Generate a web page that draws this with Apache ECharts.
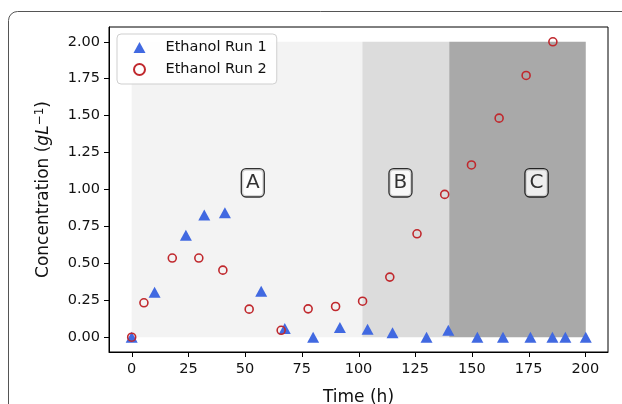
<!DOCTYPE html>
<html>
<head>
<meta charset="utf-8">
<script src="https://cdn.jsdelivr.net/npm/echarts@6/dist/echarts.min.js"></script>
<style>
  html, body { margin: 0; padding: 0; background: #fff; }
  #chart { width: 622px; height: 404px; }
</style>
</head>
<body>
<div id="chart"></div>
<script>
// run 1 (triangles)
const run1Time = [0, 10.1, 23.9, 32, 41.1, 57.1, 67.5, 80, 91.8, 104, 115, 130, 139.6, 152.4, 163.7, 175.8, 185.5, 191.2, 200.2];
const run1Conc = [0, 0.305, 0.69, 0.827, 0.843, 0.312, 0.059, 0, 0.066, 0.054, 0.03, 0, 0.047, 0, 0, 0, 0, 0, 0];

// run 2 (circles)
const run2Time = [0, 5.4, 17.9, 29.6, 40.2, 51.8, 65.9, 77.8, 89.9, 101.8, 113.8, 125.8, 138, 149.8, 162, 173.9, 185.7];
const run2Conc = [0, 0.233, 0.536, 0.536, 0.454, 0.19, 0.047, 0.192, 0.208, 0.244, 0.407, 0.70, 0.967, 1.166, 1.483, 1.772, 2.0];

// phases
const phaseNames = ["A", "B", "C"];
const phaseStart = [0, 101.7, 140];
const phaseEnd = [101.7, 140, 200.2];
const phaseTop = 2.0;
const phaseLabelX = [53.4, 118.5, 178.5];
const phaseLabelY = 1.045;

const xTicks = [0, 25, 50, 75, 100, 125, 150, 175, 200];
const yTicks = [0, 0.25, 0.5, 0.75, 1.0, 1.25, 1.5, 1.75, 2.0];
const X_MIN = -10, X_MAX = 210, Y_MIN = -0.1, Y_MAX = 2.1;

const phaseColors = ["#f3f3f3", "#dcdcdc", "#a9a9a9"];
const FONT = "DejaVu Sans";

const chart = echarts.init(document.getElementById("chart"));

chart.setOption({
  animation: false,
  textStyle: { fontFamily: FONT },
  graphic: [
    {
      type: "rect",
      shape: { x: 8.5, y: 11.5, width: 700, height: 500, r: 9 },
      style: { fill: "none", stroke: "#555", lineWidth: 1 },
      z: -10,
    },
  ],
  grid: {
    left: 109, right: 14, top: 27, bottom: 52,
    outerBoundsMode: "none",
    containLabel: false,
    show: true, borderColor: "#000", borderWidth: 1, backgroundColor: "#fff",
  },
  legend: {
    orient: "vertical",
    left: 117, top: 34,
    padding: [6, 10, 7, 16],
    itemGap: 7,
    itemWidth: 12, itemHeight: 11,
    backgroundColor: "rgba(255,255,255,0.85)",
    borderColor: "#cfcfcf", borderWidth: 1, borderRadius: 4,
    textStyle: { fontFamily: FONT, fontSize: 14.5, color: "#111", padding: [0, 0, 0, 15] },
    data: [
      { name: "Ethanol Run 1", icon: "triangle" },
      { name: "Ethanol Run 2", icon: "circle" },
    ],
    z: 20,
  },
  xAxis: {
    type: "value", min: X_MIN, max: X_MAX,
    name: "Time (h)", nameLocation: "middle", nameGap: 37,
    nameTextStyle: { fontFamily: FONT, fontSize: 17, color: "#111" },
    axisLine: { show: true, onZero: false, lineStyle: { color: "#000", width: 1 } },
    axisTick: { show: false },
    axisLabel: { fontFamily: FONT, fontSize: 14.5, color: "#111", margin: 10, customValues: xTicks },
    splitLine: { show: false },
  },
  yAxis: {
    type: "value", min: Y_MIN, max: Y_MAX,
    name: "{n|Concentration (}{i|gL}{s|−1}{n|)}",
    nameLocation: "middle", nameGap: 55, nameRotate: 90,
    nameTextStyle: {
      fontFamily: FONT, fontSize: 17, color: "#111",
      rich: {
        n: { fontFamily: FONT, fontSize: 17, color: "#111" },
        i: { fontFamily: FONT, fontSize: 17, fontStyle: "italic", color: "#111" },
        s: { fontFamily: FONT, fontSize: 12, color: "#111", verticalAlign: "top", padding: [0, 0, 8, 0] },
      },
    },
    axisLine: { show: true, onZero: false, lineStyle: { color: "#000", width: 1 } },
    axisTick: { show: true, length: 5, lineStyle: { color: "#000", width: 1 }, customValues: yTicks },
    axisLabel: {
      fontFamily: FONT, fontSize: 14.5, color: "#111", margin: 9,
      customValues: yTicks,
      formatter: (v) => v.toFixed(2),
    },
    splitLine: { show: false },
  },
  series: [
    {
      name: "phases",
      type: "scatter",
      data: [],
      silent: true,
      z: 1,
      markArea: {
        silent: true,
        data: phaseStart.map((s, i) => [
          { coord: [s, 0], itemStyle: { color: phaseColors[i] } },
          { coord: [phaseEnd[i], phaseTop] },
        ]),
      },
    },
    {
      // x-axis tick marks at the bottom spine
      name: "xticks",
      type: "custom",
      silent: true,
      clip: false,
      z: 6,
      data: xTicks.map((v) => [v, Y_MIN]),
      renderItem: (params, api) => {
        const p = api.coord([api.value(0), api.value(1)]);
        const x = Math.round(p[0]) + 0.5;
        return {
          type: "line",
          shape: { x1: x, y1: p[1], x2: x, y2: p[1] + 5 },
          style: { stroke: "#000", lineWidth: 1 },
        };
      },
    },
    {
      name: "Ethanol Run 1",
      type: "scatter",
      symbol: "triangle",
      symbolSize: [12, 11],
      itemStyle: { color: "#4169e1", opacity: 1 },
      data: run1Time.map((t, i) => [t, run1Conc[i]]),
      z: 3,
    },
    {
      name: "Ethanol Run 2",
      type: "scatter",
      symbol: "circle",
      symbolSize: 8,
      itemStyle: { color: "rgba(255,255,255,0)", borderColor: "#c0282d", borderWidth: 1.6, opacity: 1 },
      data: run2Time.map((t, i) => [t, run2Conc[i]]),
      z: 4,
    },
    {
      name: "labels",
      type: "scatter",
      symbolSize: 0,
      silent: true,
      z: 5,
      data: phaseLabelX.map((x, i) => ({ value: [x, phaseLabelY], name: phaseNames[i] })),
      label: {
        show: true,
        position: "inside",
        formatter: (p) => p.name,
        fontFamily: FONT, fontSize: 20, color: "#000",
        backgroundColor: "#fff",
        borderColor: "#000", borderWidth: 1.3, borderRadius: 4,
        padding: [4, 4, 3, 4],
      },
    },
  ],
});
</script>
</body>
</html>
